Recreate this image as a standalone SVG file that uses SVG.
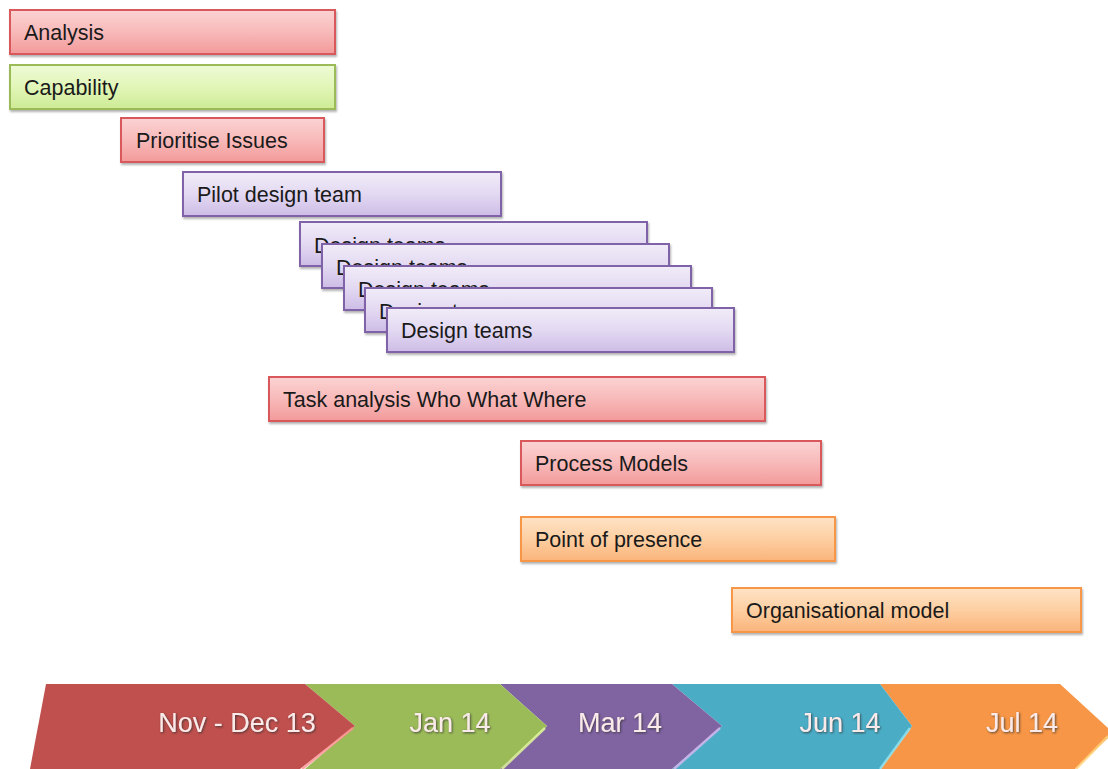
<svg xmlns="http://www.w3.org/2000/svg" width="1108" height="769" viewBox="0 0 1108 769">
<defs>
<linearGradient id="gRed" x1="0" y1="0" x2="0" y2="1"><stop offset="0" stop-color="#fbd3d3"/><stop offset="0.5" stop-color="#f8b9b9"/><stop offset="1" stop-color="#f39a9a"/></linearGradient>
<linearGradient id="gGreen" x1="0" y1="0" x2="0" y2="1"><stop offset="0" stop-color="#eefad6"/><stop offset="0.5" stop-color="#e2f6b8"/><stop offset="1" stop-color="#cdeb94"/></linearGradient>
<linearGradient id="gPurple" x1="0" y1="0" x2="0" y2="1"><stop offset="0" stop-color="#f1ecf8"/><stop offset="0.5" stop-color="#e3d9f2"/><stop offset="1" stop-color="#cdbce6"/></linearGradient>
<linearGradient id="gOrange" x1="0" y1="0" x2="0" y2="1"><stop offset="0" stop-color="#fee3c6"/><stop offset="0.5" stop-color="#fdcfa2"/><stop offset="1" stop-color="#fbb47a"/></linearGradient>
<filter id="sh" x="-5%" y="-20%" width="110%" height="150%"><feDropShadow dx="1" dy="2" stdDeviation="1.2" flood-color="#000" flood-opacity="0.3"/></filter>
<filter id="tsh" x="-10%" y="-30%" width="120%" height="160%"><feDropShadow dx="1" dy="1" stdDeviation="1" flood-color="#333" flood-opacity="0.8"/></filter>
</defs>
<style>
.red{fill:url(#gRed);stroke:#d9585c;stroke-width:2}
.green{fill:url(#gGreen);stroke:#9bbb59;stroke-width:2}
.purple{fill:url(#gPurple);stroke:#7f62a8;stroke-width:2}
.orange{fill:url(#gOrange);stroke:#f79646;stroke-width:2}
.box{filter:url(#sh)}
.t{font-family:"Liberation Sans",Arial,sans-serif;font-size:21.5px;fill:#1a1a1a}
.ct{font-family:"Liberation Sans",Arial,sans-serif;font-size:27px;fill:#fbeaea;text-anchor:middle;filter:url(#tsh)}
.hl{fill:none;stroke-width:2.5;stroke-opacity:0.8}
</style>
<rect width="1108" height="769" fill="#ffffff"/>

<g id="analysis"><rect class="red box" x="10" y="10" width="325" height="44"/><text class="t" x="24" y="40">Analysis</text></g>
<g id="capability"><rect class="green box" x="10" y="65" width="325" height="44"/><text class="t" x="24" y="95">Capability</text></g>
<g id="prioritise"><rect class="red box" x="121" y="118" width="203" height="44"/><text class="t" x="136" y="148">Prioritise Issues</text></g>
<g id="pilot"><rect class="purple box" x="183" y="172" width="318" height="44"/><text class="t" x="197" y="202">Pilot design team</text></g>
<g id="design1"><rect class="purple box" x="300" y="222" width="347" height="44"/><text class="t" x="314" y="253">Design teams</text></g>
<g id="design2"><rect class="purple box" x="322" y="244" width="347" height="44"/><text class="t" x="336" y="275">Design teams</text></g>
<g id="design3"><rect class="purple box" x="344" y="266" width="347" height="44"/><text class="t" x="358" y="297">Design teams</text></g>
<g id="design4"><rect class="purple box" x="365" y="288" width="347" height="44"/><text class="t" x="379" y="319">Design teams</text></g>
<g id="design5"><rect class="purple box" x="387" y="308" width="347" height="44"/><text class="t" x="401" y="338">Design teams</text></g>
<g id="task"><rect class="red box" x="269" y="377" width="496" height="44"/><text class="t" x="283" y="407">Task analysis Who What Where</text></g>
<g id="process"><rect class="red box" x="521" y="441" width="300" height="44"/><text class="t" x="535" y="471">Process Models</text></g>
<g id="presence"><rect class="orange box" x="521" y="517" width="314" height="44"/><text class="t" x="535" y="547">Point of presence</text></g>
<g id="orgmodel"><rect class="orange box" x="732" y="588" width="349" height="44"/><text class="t" x="746" y="618">Organisational model</text></g>

<g id="connectors"></g>

<g id="timeline">
<g id="c-jul"><path d="M880,684 L1060,684 L1108,728 L1108,738 L1075,769 L880,769 L912,726 Z" fill="#f79646"/><path class="hl" d="M1108,736 L1076,769" stroke="#ffd37a"/><text class="ct" x="1022" y="732">Jul 14</text></g>
<g id="c-jun"><path d="M672,684 L880,684 L912,726 L880,769 L672,769 L722,726 Z" fill="#4bacc6"/><path class="hl" d="M910,728 L880,769" stroke="#8fe6f5"/><text class="ct" x="840" y="732">Jun 14</text></g>
<g id="c-mar"><path d="M500,684 L672,684 L722,726 L672,769 L500,769 L547,726 Z" fill="#8064a2"/><path class="hl" d="M720,728 L674,769" stroke="#d9b8f0"/><text class="ct" x="620" y="732">Mar 14</text></g>
<g id="c-jan"><path d="M305,684 L500,684 L547,726 L500,769 L305,769 L355,726 Z" fill="#9bbb59"/><path class="hl" d="M545,728 L502,769" stroke="#e6ff9a"/><text class="ct" x="450" y="732">Jan 14</text></g>
<g id="c-nov"><path d="M46,684 L305,684 L355,726 L300,769 L30,769 Z" fill="#c0504d"/><path class="hl" d="M353,728 L302,769" stroke="#ff8f8f"/><text class="ct" x="237" y="732">Nov - Dec 13</text></g>
</g>
</svg>
